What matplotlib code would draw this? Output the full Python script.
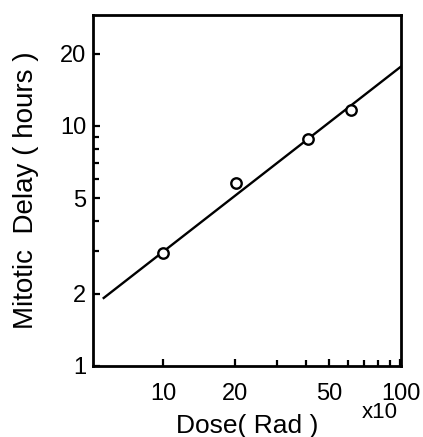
import matplotlib
matplotlib.use("Agg")
from matplotlib import pyplot as plt
from matplotlib.ticker import FixedLocator, NullFormatter

# measured points (dose in units of 10 rad, delay in hours)
dose = [10, 20.3, 40.8, 62]
delay = [2.96, 5.8, 8.85, 11.7]

# fitted line end points
fit_dose = [5.6, 100]
fit_delay = [1.92, 17.6]

x_ticks = [10, 20, 50, 100]
x_minor = [30, 40, 60, 70, 80, 90]
y_ticks = [1, 2, 5, 10, 20]
y_minor = [3, 4, 6, 7, 8, 9]

plt.rcParams['font.family'] = ['Liberation Sans', 'DejaVu Sans']

fig = plt.figure(figsize=(4.23, 4.37), dpi=100)
ax = fig.add_axes([0.22, 0.1625, 0.728, 0.8035])

ax.plot(fit_dose, fit_delay, color="black", lw=1.7)
ax.plot(dose, delay, "o", mfc="white", mec="black", mew=1.7, ms=7.5)

ax.set_xscale("log")
ax.set_yscale("log")
ax.set_xlim(5.05, 100.5)
ax.set_ylim(1, 29)

ax.xaxis.set_major_locator(FixedLocator(x_ticks))
ax.xaxis.set_minor_locator(FixedLocator(x_minor))
ax.yaxis.set_major_locator(FixedLocator(y_ticks))
ax.yaxis.set_minor_locator(FixedLocator(y_minor))
ax.set_xticklabels([str(t) for t in x_ticks])
ax.set_yticklabels([str(t) for t in y_ticks])
ax.xaxis.set_minor_formatter(NullFormatter())
ax.yaxis.set_minor_formatter(NullFormatter())

ax.tick_params(which="both", direction="in", width=1.6, labelsize=17)
ax.tick_params(which="major", length=5)
ax.tick_params(which="minor", length=4)
ax.tick_params(axis="x", pad=12)
ax.tick_params(axis="y", pad=5)

for s in ax.spines.values():
    s.set_linewidth(2)

ax.set_xlabel("Dose( Rad )", fontsize=19, labelpad=7)
ax.set_ylabel("Mitotic  Delay ( hours )", fontsize=20, labelpad=15)
fig.text(0.898, 0.057, "x10", fontsize=16, ha="center", va="center")

fig.savefig("out.png", dpi=100)
